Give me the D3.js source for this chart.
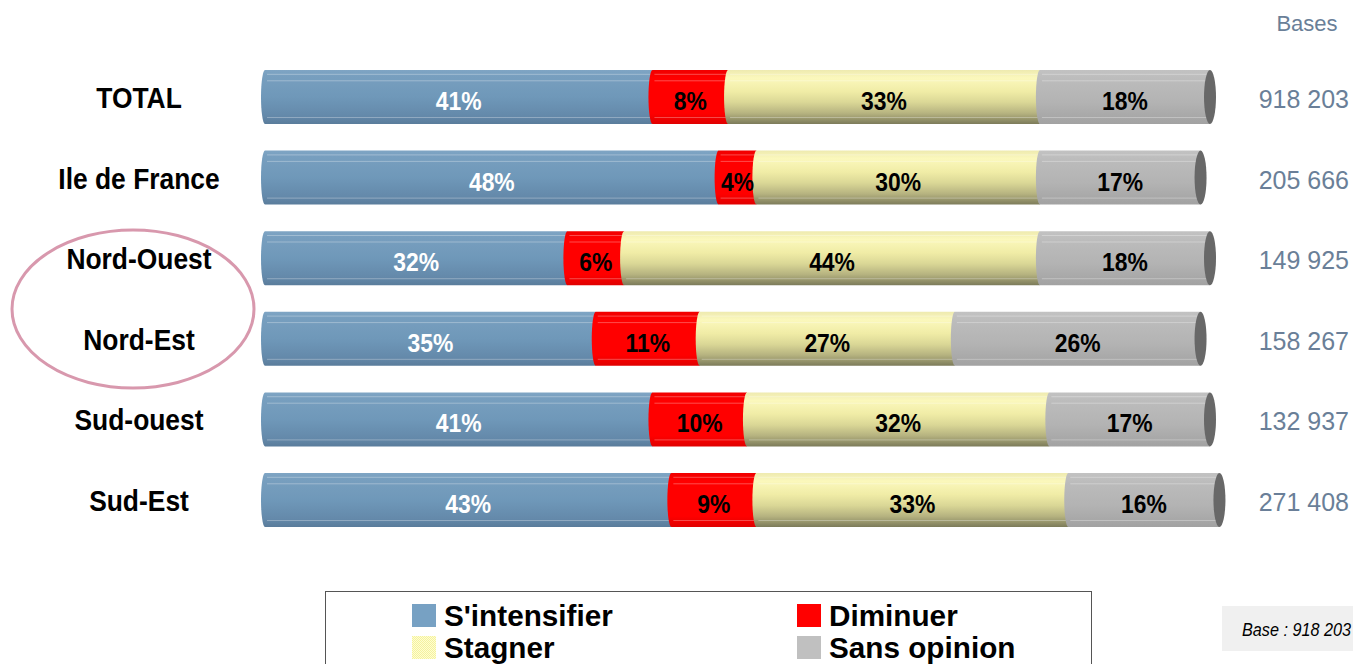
<!DOCTYPE html>
<html><head><meta charset="utf-8">
<script src="https://cdn.jsdelivr.net/npm/d3@7"></script>
<style>body{margin:0;background:#fff}svg{display:block}</style>
</head><body>
<script>
const categories = ["TOTAL","Ile de France","Nord-Ouest","Nord-Est","Sud-ouest","Sud-Est"];
const seriesNames = ["S'intensifier","Diminuer","Stagner","Sans opinion"];
const sIntensifier = [41,48,32,35,41,43];
const diminuer     = [8,4,6,11,10,9];
const stagner      = [33,30,44,27,32,33];
const sansOpinion  = [18,17,18,26,17,16];
const bases = ["918 203","205 666","149 925","158 267","132 937","271 408"];
const baseNote = "Base : 918 203";

const W=1353,H=664;
const FONT = "'Liberation Sans',Arial,Helvetica,sans-serif";
const svg=d3.select("body").append("svg").attr("width",W).attr("height",H);
const defs=svg.append("defs");

function grad(id,stops){
  const g=defs.append("linearGradient").attr("id",id).attr("x1",0).attr("y1",0).attr("x2",0).attr("y2",1);
  stops.forEach(s=>g.append("stop").attr("offset",s[0]).attr("stop-color",s[1]));
}
grad("gBlue",[[0,"#7fa5c4"],[0.1,"#789fbf"],[0.5,"#6f98b9"],[0.85,"#6489aa"],[1,"#5a7c9b"]]);
grad("gRed",[[0,"#f00000"],[0.15,"#ff0000"],[0.8,"#ff0000"],[1,"#e00000"]]);
grad("gYel",[[0,"#eeeab0"],[0.15,"#fbf8bc"],[0.4,"#f0ec a6".replace(" ","")],[0.6,"#dad796"],[0.8,"#b6b380"],[1,"#7c7b5a"]]);
grad("gGray",[[0,"#c2c2c2"],[0.2,"#bbbbbb"],[0.6,"#b3b3b3"],[1,"#a2a2a2"]]);
const pat=defs.append("pattern").attr("id","chk").attr("width",2).attr("height",2).attr("patternUnits","userSpaceOnUse");
pat.append("rect").attr("width",2).attr("height",2).attr("fill","#ffffd0");
pat.append("rect").attr("width",1).attr("height",1).attr("fill","#f4f0a0");
pat.append("rect").attr("x",1).attr("y",1).attr("width",1).attr("height",1).attr("fill","#f4f0a0");

const fills=["url(#gBlue)","url(#gRed)","url(#gYel)","url(#gGray)"];
const legendFills=["#77a1c3","#ff0000","url(#chk)","#c0c0c0"];
const textColors=["#ffffff","#000000","#000000","#000000"];

function ctext(parent,x,y,str,o){
  const g=parent.append("g").attr("transform",`translate(${x},${y}) scale(${o.sx||1},1)`);
  return g.append("text").attr("x",0).attr("y",0).attr("text-anchor",o.anchor||"start")
    .attr("font-family",FONT).attr("font-weight",o.weight||"normal").attr("font-style",o.style||"normal")
    .attr("font-size",o.size).attr("fill",o.fill||"#000").text(str);
}

const x=d3.scaleLinear().domain([0,100]).range([265,1210]);
const y=d3.scalePoint().domain(categories).range([97,500]);
const barH=54, rx=4;

const rows=categories.map((c,i)=>{
  const vals=[sIntensifier[i],diminuer[i],stagner[i],sansOpinion[i]];
  let acc=0;
  return {cat:c,base:bases[i],segs:vals.map((v,k)=>{const s={k,v,x0:acc,x1:acc+v};acc+=v;return s;})};
});

const g=svg.append("g");
rows.forEach(r=>{
  const cy=y(r.cat);
  const rg=g.append("g");
  r.segs.forEach(s=>{
    const a=x(s.x0), b=x(s.x1);
    rg.append("path")
      .attr("d",`M${b},${cy-barH/2} L${a},${cy-barH/2} A${rx},${barH/2} 0 0 0 ${a},${cy+barH/2} L${b},${cy+barH/2} Z`)
      .attr("fill",fills[s.k]);
    [0.08,0.2,0.88].forEach(f=>{
      rg.append("line").attr("x1",a+2).attr("x2",b).attr("y1",cy-barH/2+f*barH).attr("y2",cy-barH/2+f*barH)
        .attr("stroke","#ffffff").attr("stroke-opacity",0.3).attr("stroke-width",1);
    });
  });
  const end=x(r.segs[3].x1);
  rg.append("ellipse").attr("cx",end).attr("cy",cy).attr("rx",6).attr("ry",barH/2).attr("fill","#686868");
  r.segs.forEach(s=>{
    ctext(rg,(x(s.x0)+x(s.x1))/2,cy+13,s.v+"%",{anchor:"middle",weight:"bold",size:26,sx:0.88,fill:textColors[s.k]});
  });
  ctext(svg,139,cy+11,r.cat,{anchor:"middle",weight:"bold",size:30,sx:0.88});
  ctext(svg,1349,cy+11,r.base,{anchor:"end",size:25,fill:"#6a7f98"});
});
ctext(svg,1307,31,"Bases",{anchor:"middle",size:22,fill:"#6a7f98"});

svg.append("ellipse").attr("cx",133).attr("cy",309).attr("rx",121).attr("ry",79)
  .attr("fill","none").attr("stroke","#d898ad").attr("stroke-width",3);

svg.append("rect").attr("x",325.5).attr("y",591.5).attr("width",766).attr("height",90)
  .attr("fill","#fff").attr("stroke","#555").attr("stroke-width",1);
const legPos=[[412,604],[797,604],[412,636],[797,636]];
seriesNames.forEach((n,k)=>{
  const [lx,ly]=legPos[k];
  svg.append("rect").attr("x",lx).attr("y",ly).attr("width",24).attr("height",23).attr("fill",legendFills[k]);
  ctext(svg,lx+32,ly+22,n,{weight:"bold",size:30,sx:0.99});
});

svg.append("rect").attr("x",1222).attr("y",606).attr("width",140).attr("height",45).attr("fill","#f0f0f0");
ctext(svg,1242,636,baseNote,{style:"italic",size:18,sx:0.9});
</script>
</body></html>
